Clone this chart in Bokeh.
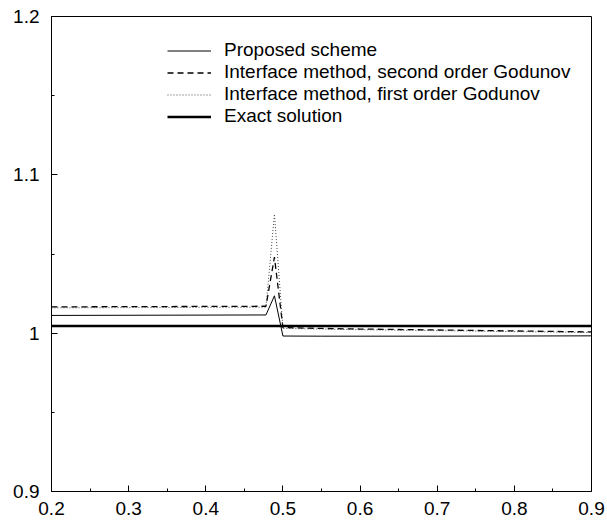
from bokeh.plotting import figure
from bokeh.models import FixedTicker, Legend, LegendItem, Range1d
from bokeh.embed import file_html
from bokeh.resources import INLINE

# ---- data ----
x_pts = [0.2, 0.478, 0.489, 0.5, 0.55, 0.6, 0.7, 0.8, 0.9]
proposed = [1.0112, 1.0115, 1.0236, 0.9982, 0.9981, 0.9981, 0.9981, 0.9982, 0.9983]
second_order = [1.0166, 1.0170, 1.0480, 1.0035, 1.0030, 1.0026, 1.0020, 1.0014, 1.0008]
first_order = [1.0160, 1.0164, 1.0752, 1.0030, 1.0026, 1.0022, 1.0016, 1.0010, 1.0004]
exact_x = [0.2, 0.9]
exact = [1.0046, 1.0046]

x_ticks = [0.2, 0.3, 0.4, 0.5, 0.6, 0.7, 0.8, 0.9]
x_minor = [0.25, 0.35, 0.45, 0.55, 0.65, 0.75, 0.85]
y_ticks = [0.9, 1.0, 1.1, 1.2]
y_minor = [0.95, 1.05, 1.15]
y_labels = {0.9: "0.9", 1.0: "1", 1.1: "1.1", 1.2: "1.2"}

labels = ["Proposed scheme",
          "Interface method, second order Godunov",
          "Interface method, first order Godunov",
          "Exact solution"]

FONT = "Liberation Sans"

p = figure(width=606, height=524, output_backend="svg", toolbar_location=None,
           x_range=Range1d(0.2, 0.9), y_range=Range1d(0.9, 1.2),
           min_border_left=51, min_border_right=15, min_border_top=16, min_border_bottom=33,
           frame_width=540, frame_height=475)
p.grid.visible = False
p.background_fill_color = "white"
p.border_fill_color = "white"
p.outline_line_color = "black"
p.outline_line_width = 1

for ax in (p.xaxis[0], p.yaxis[0]):
    ax.major_tick_in = 6
    ax.major_tick_out = 0
    ax.minor_tick_in = 3
    ax.minor_tick_out = 0
    ax.axis_line_color = "black"
    ax.major_tick_line_color = "black"
    ax.minor_tick_line_color = "black"
    ax.major_label_text_font = FONT
    ax.major_label_text_font_size = "19px"
    ax.major_label_text_color = "black"

p.xaxis[0].ticker = FixedTicker(ticks=x_ticks, minor_ticks=x_minor)
p.yaxis[0].ticker = FixedTicker(ticks=y_ticks, minor_ticks=y_minor)
p.yaxis[0].major_label_overrides = y_labels
p.xaxis[0].major_label_standoff = 10
p.yaxis[0].major_label_standoff = 12

r1 = p.line(x_pts, proposed, line_color="black", line_width=1)
r2 = p.line(x_pts, second_order, line_color="black", line_width=1.3, line_dash="6 4")
r3 = p.line(x_pts, first_order, line_color="#444444", line_width=1, line_dash="1 2")
r4 = p.line(exact_x, exact, line_color="black", line_width=2.5)

legend = Legend(items=[LegendItem(label=labels[0], renderers=[r1]),
                       LegendItem(label=labels[1], renderers=[r2]),
                       LegendItem(label=labels[2], renderers=[r3]),
                       LegendItem(label=labels[3], renderers=[r4])],
                location=(116, 364), orientation="vertical",
                padding=0, margin=0, spacing=0,
                glyph_width=44, glyph_height=21, label_height=21,
                label_standoff=13, border_line_color=None,
                background_fill_alpha=0,
                label_text_font=FONT, label_text_font_size="19px",
                label_text_color="black")
p.add_layout(legend, "center")

open("out.html", "w").write(file_html(p, INLINE))
